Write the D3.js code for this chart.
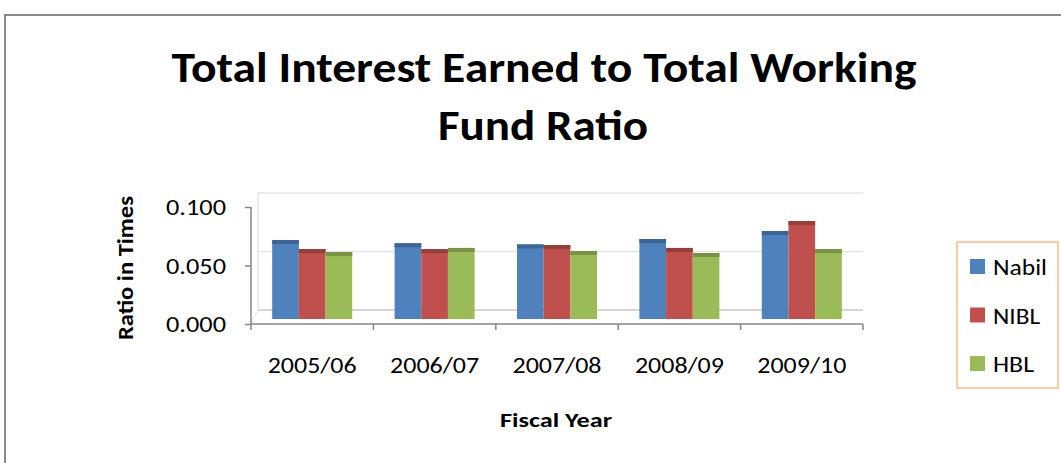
<!DOCTYPE html>
<html><head><meta charset="utf-8">
<script src="https://cdn.jsdelivr.net/npm/d3@7"></script>
<style>body{margin:0;background:#fff}svg{display:block}</style>
</head><body>
<script>
const categories = ["2005/06","2006/07","2007/08","2008/09","2009/10"];
const seriesNames = ["Nabil","NIBL","HBL"];
const nabil = [0.0718, 0.069, 0.068, 0.0726, 0.0795];
const nibl  = [0.064, 0.064, 0.0675, 0.065, 0.088];
const hbl   = [0.0615, 0.065, 0.0624, 0.0607, 0.064];
const colors = ["#4f81bd","#c0504d","#9bbb59"];
const yTicks = [0, 0.05, 0.1];

const W = 1061, H = 463;
const font = "Carlito, Calibri, Lato, 'Liberation Sans', sans-serif";
const svg = d3.select("body").append("svg").attr("width", W).attr("height", H);
svg.append("rect").attr("width", W).attr("height", H).attr("fill", "#fff");
// outer border
svg.append("rect").attr("x", 5).attr("y", 15).attr("width", W + 10).attr("height", H + 10)
  .attr("fill", "none").attr("stroke", "#8a8a8a").attr("stroke-width", 2);

// title
svg.append("text").attr("x", 544).attr("y", 82).attr("text-anchor", "middle")
  .attr("font-family", font).attr("font-weight", "bold").attr("font-size", 42)
  .attr("textLength", 745).attr("lengthAdjust", "spacingAndGlyphs")
  .text("Total Interest Earned to Total Working");
svg.append("text").attr("x", 543).attr("y", 140).attr("text-anchor", "middle")
  .attr("font-family", font).attr("font-weight", "bold").attr("font-size", 42)
  .attr("textLength", 210).attr("lengthAdjust", "spacingAndGlyphs")
  .text("Fund Ratio");

const x = d3.scaleBand().domain(categories).range([251, 863]);
const xs = d3.scaleBand().domain(seriesNames).range([-40, 40]);
const y = d3.scaleLinear().domain([0, 0.1]).range([324, 207]);
const depthX = 7, depthY = 14;

// back wall gridlines
const g = svg.append("g");
g.selectAll("line.grid").data(yTicks).join("line")
  .attr("x1", 251 + depthX).attr("x2", 863).attr("y1", d => y(d) - depthY).attr("y2", d => y(d) - depthY)
  .attr("stroke", d => d === 0 ? "#c8c8c8" : "#e4e4e4").attr("stroke-width", 1.5);
g.append("line").attr("x1", 251 + depthX).attr("x2", 251 + depthX)
  .attr("y1", y(0.1) - depthY).attr("y2", y(0) - depthY).attr("stroke", "#e4e4e4").attr("stroke-width", 1.5);
g.append("line").attr("x1", 251).attr("x2", 251 + depthX)
  .attr("y1", y(0)).attr("y2", y(0) - depthY).attr("stroke", "#e4e4e4").attr("stroke-width", 1);

// bars
const seriesVals = [nabil, nibl, hbl];
seriesNames.forEach((s, si) => {
  const vals = seriesVals[si];
  const c = colors[si];
  const grp = svg.append("g");
  grp.selectAll("rect.front").data(categories).join("rect")
    .attr("x", (d) => x(d) + x.bandwidth() / 2 + xs(s))
    .attr("width", xs.bandwidth())
    .attr("y", (d, i) => y(vals[i]))
    .attr("height", (d, i) => (y(0) - 5) - y(vals[i]))
    .attr("fill", c);
  grp.selectAll("rect.top").data(categories).join("rect")
    .attr("x", (d) => x(d) + x.bandwidth() / 2 + xs(s))
    .attr("width", xs.bandwidth())
    .attr("y", (d, i) => y(vals[i]))
    .attr("height", 4)
    .attr("fill", d3.color(c).darker(0.7));
});

// axes
const yAxis = svg.append("g").attr("transform", "translate(251,0)")
  .call(d3.axisLeft(y).tickValues(yTicks).tickFormat(d3.format(".3f")).tickSize(6).tickPadding(19));
yAxis.select(".domain").attr("stroke", "#868686").attr("stroke-width", 1.5).attr("d", `M0,${y(0.1)}V${y(0)}`);
yAxis.selectAll(".tick line").attr("stroke", "#868686").attr("stroke-width", 1.5);
yAxis.selectAll(".tick text").attr("font-family", font).attr("font-size", 22).attr("fill", "#000")
  .attr("dy", "0.35em").attr("textLength", 60).attr("lengthAdjust", "spacingAndGlyphs");

const xAxis = svg.append("g").attr("transform", `translate(0,${y(0)})`)
  .call(d3.axisBottom(x).tickSize(0).tickPadding(33));
xAxis.select(".domain").attr("stroke", "#868686").attr("stroke-width", 1.5).attr("d", "M251,0H863");
xAxis.selectAll(".tick text").attr("font-family", font).attr("font-size", 22).attr("fill", "#000")
  .attr("textLength", 89).attr("lengthAdjust", "spacingAndGlyphs");
svg.append("g").selectAll("line").data(d3.range(categories.length + 1)).join("line")
  .attr("x1", i => 251 + i * x.step()).attr("x2", i => 251 + i * x.step())
  .attr("y1", y(0)).attr("y2", y(0) + 6).attr("stroke", "#868686").attr("stroke-width", 1.5);

// axis titles
svg.append("text").attr("transform", "translate(133,268) rotate(-90)").attr("text-anchor", "middle")
  .attr("font-family", font).attr("font-weight", "bold").attr("font-size", 22)
  .attr("textLength", 144).attr("lengthAdjust", "spacingAndGlyphs").text("Ratio in Times");
svg.append("text").attr("x", 556).attr("y", 427).attr("text-anchor", "middle")
  .attr("font-family", font).attr("font-weight", "bold").attr("font-size", 21)
  .attr("textLength", 112).attr("lengthAdjust", "spacingAndGlyphs").text("Fiscal Year");

// legend
svg.append("rect").attr("x", 957).attr("y", 242).attr("width", 101).attr("height", 146)
  .attr("fill", "#fff").attr("stroke", "#f9cba6").attr("stroke-width", 2);
const legW = [54, 47, 41];
const leg = svg.append("g").selectAll("g").data(seriesNames).join("g")
  .attr("transform", (d, i) => `translate(970,${259 + i * 48.5})`);
leg.append("rect").attr("width", 15).attr("height", 15).attr("fill", (d, i) => colors[i]);
leg.append("text").attr("x", 23).attr("y", 16).attr("font-family", font).attr("font-size", 23)
  .attr("fill", "#000").attr("textLength", (d, i) => legW[i]).attr("lengthAdjust", "spacingAndGlyphs").text(d => d);
</script>
</body></html>
